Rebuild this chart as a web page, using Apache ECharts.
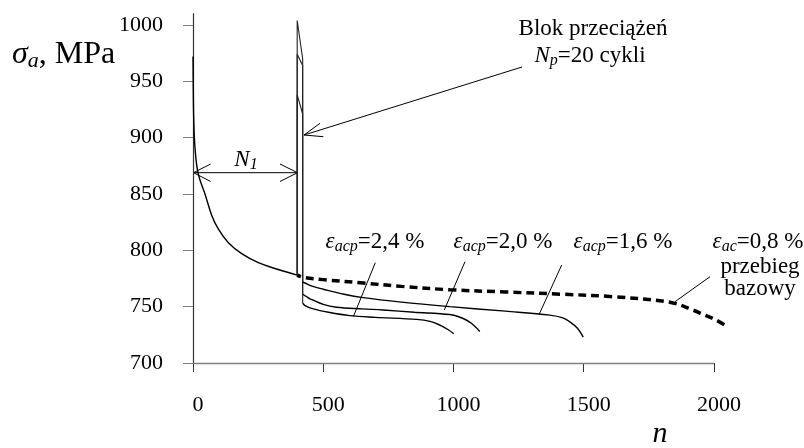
<!DOCTYPE html>
<html><head><meta charset="utf-8">
<script src="https://cdn.jsdelivr.net/npm/echarts@6/dist/echarts.min.js"></script>
<style>html,body{margin:0;padding:0;background:#fff}#c{width:804px;height:448px}</style>
</head><body><div id="c"></div>
<script>
// ---- data (n, sigma_a [MPa]) ----
const xTicks = [0, 500, 1000, 1500, 2000];
const yTicks = [700, 750, 800, 850, 900, 950, 1000];
const baseInitial = [[0,972],[1,945],[3,915],[8,890],[20,868],[46,850],[72,831],[97,819],[135,807],[187,797],[251,789],[327,783],[400,778]];
const baseDashed = [[400,778],[423,776],[500,774],[654,771],[800,768],[986,765],[1200,763],[1421,761],[1600,759],[1830,754],[1919,747],[1960,743],[2009,738],[2054,732]];
const spike24 = [[400,778],[400,1004],[421,970],[421,753]];
const tail24 = [[421,753],[430,751],[462,748],[520,745],[602,742],[700,740.5],[858,738.7],[910,737],[948,733.6],[980,729.5],[1001,726]];
const spike20 = [[400,778],[400,974],[421,964],[421,761]];
const tail20 = [[421,761],[435,759],[449,757],[500,752],[551,749.5],[650,748],[730,747],[850,745],[986,743],[1037,739.5],[1070,735],[1101,728]];
const spike16 = [[400,778],[400,938],[421,921],[421,772]];
const tail16 = [[421,772],[430,771],[460,768],[500,765.5],[580,761],[653,758],[800,754],[986,750],[1200,746],[1370,742.5],[1420,740],[1447,736.5],[1475,731],[1498,723]];

const FF = 'Liberation Serif';
const chart = echarts.init(document.getElementById('c'), null, {renderer:'canvas'});

function solid(data, w, smooth, color) {
  return {type:'line', data, showSymbol:false, symbol:'none', clip:false, silent:true,
    smooth: smooth ? smooth : false,
    lineStyle:{color: color || '#000', width:w}};
}
const txt = (x, y, text, rich, align) => ({type:'text', silent:true, style:{x, y, text, rich, align: align||'center', verticalAlign:'middle', fill:'#000', fontFamily:FF}});
const ln = (x1,y1,x2,y2) => ({type:'line', silent:true, shape:{x1,y1,x2,y2}, style:{stroke:'#000', lineWidth:1}});
const pl = (pts) => ({type:'polyline', silent:true, shape:{points:pts}, style:{stroke:'#000', lineWidth:1, fill:null}});

const R = (sz) => ({
  i:{fontFamily:FF, fontStyle:'italic', fontSize:sz, lineHeight:sz+2, verticalAlign:'middle'},
  s:{fontFamily:FF, fontStyle:'italic', fontSize:Math.round(sz*0.68), lineHeight:Math.round(sz*0.45), verticalAlign:'bottom'},
  r:{fontFamily:FF, fontSize:sz, lineHeight:sz+2, verticalAlign:'middle'}
});

const baseSolid = solid(baseInitial, 1.4, 0.4);
// x-axis line drawn only up to the last tick (2000)
baseSolid.markLine = {silent:true, symbol:'none', label:{show:false},
  lineStyle:{color:'#808080', width:1.3, type:'solid'},
  data:[[{coord:[xTicks[0], yTicks[0]]},{coord:[xTicks[xTicks.length-1], yTicks[0]]}]]};

chart.setOption({
  animation:false,
  backgroundColor:'#fff',
  textStyle:{fontFamily:FF},
  grid:{left:193, right:74.4, top:13.7, bottom:85, containLabel:false},
  xAxis:{type:'value', min:0, max:2060, interval:500,
    axisLine:{show:false},
    axisTick:{show:true, length:9, inside:false, customValues:xTicks, lineStyle:{color:'#333'}},
    axisLabel:{margin:31, color:'#000', fontFamily:FF, fontSize:22, customValues:xTicks, padding:[0,0,0,10], formatter:v => String(v)},
    splitLine:{show:false}},
  yAxis:{type:'value', min:700, max:1010, interval:50,
    axisLine:{show:true, lineStyle:{color:'#333', width:1.2}},
    axisTick:{show:true, length:10, customValues:yTicks, lineStyle:{color:'#808080'}},
    axisLabel:{margin:30, color:'#000', fontFamily:FF, fontSize:22, customValues:yTicks, padding:[0,0,9,0], formatter:v => String(v)},
    splitLine:{show:false}},
  series:[
    baseSolid,
    {type:'line', data:baseDashed, showSymbol:false, symbol:'none', clip:false, silent:true, smooth:0.35,
      lineStyle:{color:'#000', width:3.5, type:[8,5], dashOffset:4}},
    solid(spike24, 1.1, false, '#222'),
    solid(spike20, 1.1, false, '#222'),
    solid(spike16, 1.1, false, '#222'),
    solid(tail24, 1.4, 0.35),
    solid(tail20, 1.4, 0.35),
    solid(tail16, 1.4, 0.35)
  ],
  graphic:[
    txt(12, 55, '{i|σ}{s|a}{r|, MPa}', R(32), 'left'),
    txt(593, 29, '{r|Blok przeciążeń}', R(23)),
    txt(590, 56, '{i|N}{s|p}{r|=20 cykli}', R(23)),
    txt(246, 160, '{i|N}{s|1}', R(23)),
    txt(375, 242, '{i|ε}{s|acp}{r|=2,4 %}', R(23)),
    txt(503, 242, '{i|ε}{s|acp}{r|=2,0 %}', R(23)),
    txt(623, 242, '{i|ε}{s|acp}{r|=1,6 %}', R(23)),
    txt(758, 242, '{i|ε}{s|ac}{r|=0,8 %}', R(23)),
    txt(760, 267, '{r|przebieg}', R(23)),
    txt(760, 289, '{r|bazowy}', R(23)),
    txt(660, 434, '{i|n}', R(30)),
    ln(522,67,304,135), pl([[320,123.3],[304,135],[323.3,136.7]]),
    ln(193.5,172.7,297.5,172.7), pl([[210.7,164],[193.5,172.7],[210.7,181.5]]), pl([[280,164],[297.5,172.7],[280,181.5]]),
    ln(375.3,262.7,353.3,316.7),
    ln(465,261.7,444.3,310),
    ln(561.7,265,539.3,314),
    ln(710,276.7,675,301.7)
  ]
});
</script></body></html>
